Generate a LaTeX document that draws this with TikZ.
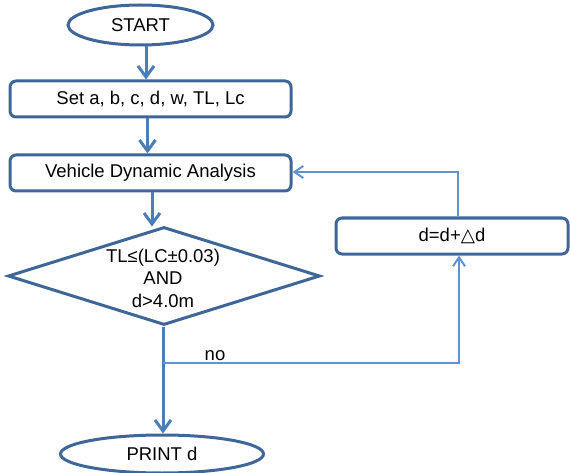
\documentclass[tikz,border=0pt]{standalone}
\usepackage{fontspec}
\setmainfont{Liberation Sans}
\newfontfamily\symfont{DejaVu Sans}
\usetikzlibrary{shapes.geometric,arrows.meta}
\definecolor{bordc}{RGB}{62,102,152}
\definecolor{arrc}{RGB}{74,126,187}
\definecolor{thinc}{RGB}{98,146,210}
\begin{document}
\begin{tikzpicture}[x=1pt,y=-1pt,
  every node/.style={font=\fontsize{18.5}{22.5}\selectfont, text=black},
  boxst/.style={draw=bordc, line width=3pt, rounded corners=6pt, inner sep=0pt, minimum height=36pt},
  ellst/.style={draw=bordc, line width=3pt, ellipse, inner sep=0pt},
  diast/.style={draw=bordc, line width=3pt, diamond, inner sep=0pt},
  arr/.style={draw=arrc, line width=3pt, -{Straight Barb[length=11pt,width=16pt]}},
  thinarr/.style={draw=thinc, line width=2pt, -{Straight Barb[length=9pt,width=12pt]}},
  thinln/.style={draw=thinc, line width=2pt}]
\useasboundingbox (0,0) rectangle (570,473);
\node[ellst, minimum width=145pt, minimum height=40pt] (start) at (140.5,25) {START};
\node[boxst, minimum width=281pt] (set) at (150.5,99) {Set a, b, c, d, w, TL, Lc};
\node[boxst, minimum width=281pt] (veh) at (150.5,173) {Vehicle Dynamic Analysis};
\node[diast, minimum width=312pt, minimum height=98pt] (dia) at (164,276) {};
\node[align=center, inner sep=0pt] (dtext) at (163,278) {TL≤(LC±0.03)\\AND\\d>4.0m};
\node[boxst, minimum width=232pt] (dbox) at (452,236) {d=d+{\symfont △}d};
\node[ellst, minimum width=203pt, minimum height=38pt] (print) at (162,454) {PRINT d};
\node[inner sep=0pt] (no) at (215,356) {no};
% arrows
\coordinate (a1) at ([xshift=5.5pt]start.south);
\draw[arr] (a1) -- (a1 |- set.north);
\coordinate (a2) at ([xshift=-3pt]set.south);
\draw[arr] (a2) -- (a2 |- veh.north);
\coordinate (a3) at ([xshift=1.5pt]veh.south);
\draw[arr] (a3) -- ([yshift=-1pt]a3 |- dia.north);
\coordinate (ms) at ([xshift=-1pt]dia.south);
\draw[arr] (ms) -- (ms |- print.north);
% branch
\coordinate (br) at (163,363);
\coordinate (brc) at (459,363);
\draw[thinarr] (br) -- (brc) -- (brc |- dbox.south);
\coordinate (fb) at (458,172);
\draw[thinarr] (fb |- dbox.north) -- (fb) -- (fb -| veh.east);
\end{tikzpicture}
\end{document}
